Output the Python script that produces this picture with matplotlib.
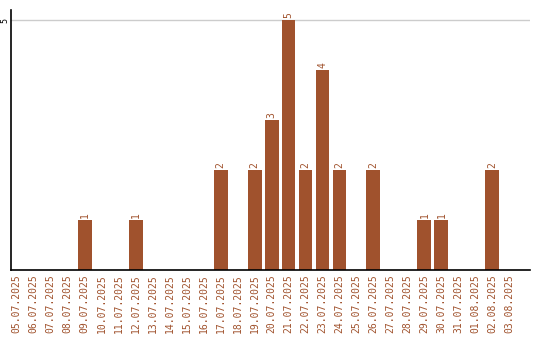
#!/usr/bin/env python3

import matplotlib
matplotlib.use("Agg")
import matplotlib.pyplot as plt

dates = ["05.07.2025", "06.07.2025", "07.07.2025", "08.07.2025", "09.07.2025",
         "10.07.2025", "11.07.2025", "12.07.2025", "13.07.2025", "14.07.2025",
         "15.07.2025", "16.07.2025", "17.07.2025", "18.07.2025", "19.07.2025",
         "20.07.2025", "21.07.2025", "22.07.2025", "23.07.2025", "24.07.2025",
         "25.07.2025", "26.07.2025", "27.07.2025", "28.07.2025", "29.07.2025",
         "30.07.2025", "31.07.2025", "01.08.2025", "02.08.2025", "03.08.2025"]
counts = [0, 0, 0, 0, 1, 0, 0, 1, 0, 0,
          0, 0, 2, 0, 2, 3, 5, 2, 4, 2,
          0, 2, 0, 0, 1, 1, 0, 0, 2, 0]

BROWN = "#a0522d"


def main():
    plt.rcParams['font.family'] = 'DejaVu Sans Mono'
    fig = plt.figure(figsize=(5.4, 3.4), dpi=100)
    ax = fig.add_axes([0.02, 0.206, 0.961, 0.764])

    x = list(range(len(dates)))
    bars = ax.bar(x, counts, width=0.82, color=BROWN, zorder=2)
    for b, c in zip(bars, counts):
        if c > 0:
            ax.text(b.get_x() + b.get_width() / 2, c + 0.05, str(c),
                    rotation=90, ha='center', va='bottom',
                    fontsize=7, color=BROWN)

    ax.set_xlim(-0.35, 30.2)
    ax.set_ylim(0, 5.2)
    ax.set_xticks(x)
    ax.set_xticklabels(dates, rotation=90, fontsize=7, color=BROWN)
    ax.set_yticks([5])
    ax.set_yticklabels(["5"], rotation=90, fontsize=6, va='center', ha='right')
    ax.tick_params(axis='x', length=0, pad=3)
    ax.tick_params(axis='y', length=0, pad=1)
    ax.yaxis.grid(True, color='#cccccc', linewidth=1, zorder=0)
    ax.spines['top'].set_visible(False)
    ax.spines['right'].set_visible(False)
    ax.spines['left'].set_linewidth(1.2)
    ax.spines['bottom'].set_linewidth(1.2)

    fig.savefig("out.png", dpi=100)


if __name__ == "__main__":
    main()
